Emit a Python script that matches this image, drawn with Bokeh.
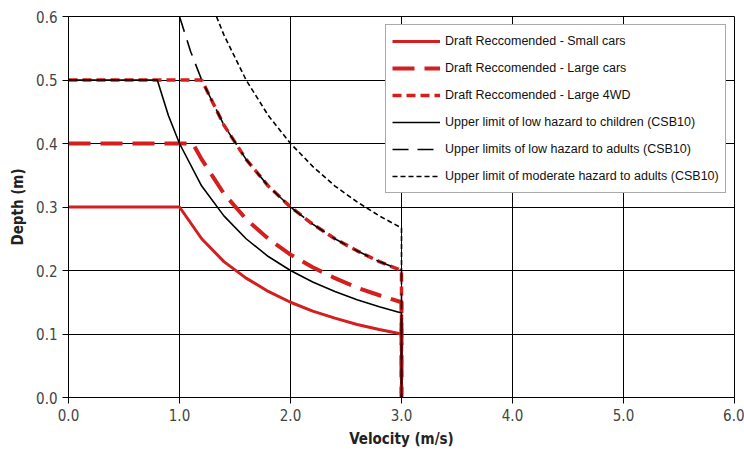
from bokeh.plotting import figure
from bokeh.models import Range1d, FixedTicker, Legend, LegendItem
from bokeh.embed import file_html
from bokeh.resources import INLINE

# Data (velocity m/s, depth m)
small_v = [0.0, 1.0, 1.2, 1.4, 1.6, 1.8, 2.0, 2.2, 2.4, 2.6, 2.8, 3.0, 3.0]
small_d = [0.3, 0.3, 0.25, 0.214, 0.188, 0.167, 0.15, 0.136, 0.125, 0.115, 0.107, 0.1, 0.0]

large_v = [0.0, 1.0, 1.12, 1.2, 1.4, 1.6, 1.8, 2.0, 2.2, 2.4, 2.6, 2.8, 3.0, 3.0]
large_d = [0.4, 0.4, 0.4, 0.375, 0.321, 0.281, 0.25, 0.225, 0.205, 0.188, 0.173, 0.161, 0.15, 0.0]

wd_v = [0.0, 1.2, 1.4, 1.6, 1.8, 2.0, 2.2, 2.4, 2.6, 2.8, 3.0, 3.0]
wd_d = [0.5, 0.5, 0.429, 0.375, 0.333, 0.3, 0.273, 0.25, 0.231, 0.214, 0.2, 0.0]

child_v = [0.0, 0.8, 0.9, 1.0, 1.2, 1.4, 1.6, 1.8, 2.0, 2.2, 2.4, 2.6, 2.8, 3.0, 3.0]
child_d = [0.5, 0.5, 0.444, 0.4, 0.333, 0.286, 0.25, 0.222, 0.2, 0.182, 0.167, 0.154, 0.143, 0.133, 0.0]

adult_v = [1.0, 1.1, 1.2, 1.4, 1.6, 1.8, 2.0, 2.2, 2.4, 2.6, 2.8, 3.0, 3.0]
adult_d = [0.6, 0.545, 0.5, 0.429, 0.375, 0.333, 0.3, 0.273, 0.25, 0.231, 0.214, 0.2, 0.0]

mod_v = [1.333, 1.4, 1.6, 1.8, 2.0, 2.2, 2.4, 2.6, 2.8, 3.0, 3.0]
mod_d = [0.6, 0.571, 0.5, 0.444, 0.4, 0.364, 0.333, 0.308, 0.286, 0.267, 0.2]

labels = [
    "Draft Reccomended - Small cars",
    "Draft Reccomended - Large cars",
    "Draft Reccomended - Large 4WD",
    "Upper limit of low hazard to children (CSB10)",
    "Upper limits of low hazard to adults (CSB10)",
    "Upper limit of moderate hazard to adults (CSB10)",
]

x_ticks = [0, 1, 2, 3, 4, 5, 6]
y_ticks = [0.0, 0.1, 0.2, 0.3, 0.4, 0.5, 0.6]

RED = "#d41f1f"
FONT = "DejaVu Sans Condensed"

p = figure(width=744, height=457, output_backend="svg", toolbar_location=None,
           x_range=Range1d(0, 6), y_range=Range1d(0, 0.6),
           min_border_left=68, min_border_right=10, min_border_top=16, min_border_bottom=60)

p.background_fill_color = "white"
p.border_fill_color = "white"
p.outline_line_color = "black"
p.outline_line_width = 1

for ax in (p.xaxis[0], p.yaxis[0]):
    ax.axis_line_color = "black"
    ax.major_tick_line_color = "black"
    ax.major_tick_out = 6
    ax.major_tick_in = 0
    ax.minor_tick_line_color = None
    ax.major_label_text_font = FONT
    ax.major_label_text_font_size = "15px"
    ax.major_label_text_color = "#444444"
    ax.axis_label_text_font = FONT
    ax.axis_label_text_font_style = "bold"
    ax.axis_label_text_font_size = "15px"
    ax.axis_label_text_color = "#222222"

p.xaxis.ticker = FixedTicker(ticks=x_ticks)
p.yaxis.ticker = FixedTicker(ticks=y_ticks)
p.xaxis.major_label_overrides = {t: f"{t:.1f}" for t in x_ticks}
p.yaxis.major_label_overrides = {t: f"{t:.1f}" for t in y_ticks}
p.xaxis.axis_label = "Velocity (m/s)"
p.yaxis.axis_label = "Depth (m)"
p.xaxis.axis_label_standoff = 6
p.yaxis.axis_label_standoff = 6

p.xgrid.grid_line_color = "black"
p.ygrid.grid_line_color = "black"
p.xgrid.grid_line_width = 1
p.ygrid.grid_line_width = 1

r1 = p.line(small_v, small_d, line_color=RED, line_width=3)
r2 = p.line(large_v, large_d, line_color=RED, line_width=4, line_dash="22 10")
r3 = p.line(wd_v, wd_d, line_color=RED, line_width=3.5, line_dash="9 5")
r4 = p.line(child_v, child_d, line_color="black", line_width=1.6)
r5 = p.line(adult_v, adult_d, line_color="black", line_width=1.6, line_dash="16 9")
r6 = p.line(mod_v, mod_d, line_color="black", line_width=1.6, line_dash="5 3")

items = [LegendItem(label=l, renderers=[r]) for l, r in zip(labels, [r1, r2, r3, r4, r5, r6])]
legend = Legend(items=items, location=(317, 204))
legend.label_text_font = "Liberation Sans"
legend.label_text_font_size = "12.5px"
legend.label_text_color = "#111111"
legend.glyph_width = 48
legend.glyph_height = 20
legend.label_height = 20
legend.spacing = 7
legend.padding = 6
legend.margin = 0
legend.label_standoff = 5
legend.border_line_color = "#555555"
legend.border_line_width = 1
legend.background_fill_alpha = 1.0
p.add_layout(legend)

open("out.html", "w").write(file_html(p, INLINE))
